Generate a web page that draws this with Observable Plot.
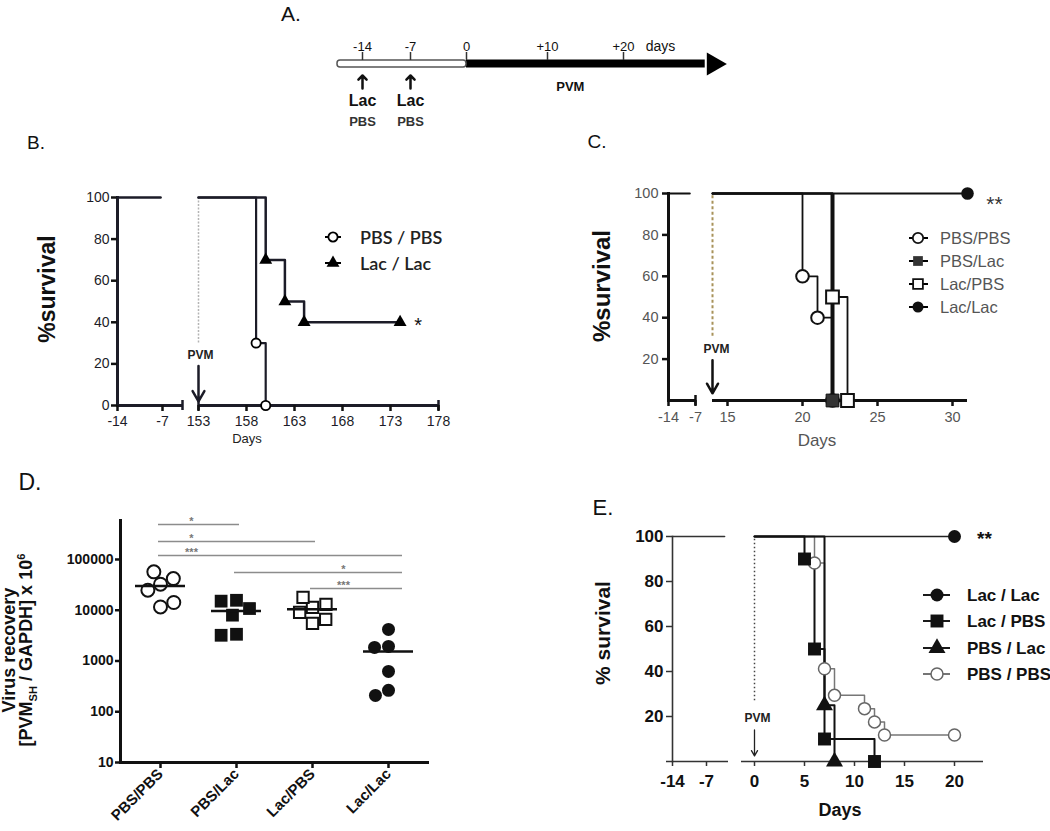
<!DOCTYPE html>
<html>
<head>
<meta charset="utf-8">
<script src="https://cdn.jsdelivr.net/npm/d3@7"></script>
<script src="https://cdn.jsdelivr.net/npm/@observablehq/plot@0.6"></script>
<style>
  body { margin: 0; background: #fff; }
  #page { position: relative; width: 1050px; height: 831px; overflow: hidden; background: #fff;
          font-family: 'Liberation Sans', Arial, Helvetica, sans-serif; color: #111; }
  #page sub, #page sup { font-size: 62%; line-height: 0; }
</style>
</head>
<body>
<div id="page"></div>
<script>
// ===================== DATA =====================
// Panel A – protocol timeline
const timelineTicks = [-14, -7, 0, 10, 20];
const timelineTickLabels = ["-14", "-7", "0", "+10", "+20"];
const timelineUnit = "days";
const timelineStart = -17.6;
const infectionDay = 0;
const timelineBodyEnd = 31;
const timelineEnd = 34;
const treatmentDays = [-14, -7];
const treatmentTop = "Lac";
const treatmentBottom = "PBS";
const infectionLabel = "PVM";
const infectionLabelDay = 13;

// Panel B – long-term survival
const bPreDays = [-14, -7.3];
const bPreSurv = [100, 100];
const bPvmDay = 153;
const bPbsPbsDays = [153, 159, 160];
const bPbsPbsSurv = [100, 30, 0];
const bLacLacDays = [153, 160, 162, 164, 174];
const bLacLacSurv = [100, 70, 50, 40, 40];
const bTicksX = [-14, -7, 153, 158, 163, 168, 173, 178];
const bTicksY = [0, 20, 40, 60, 80, 100];
const bAxisSegments = [[-14, -3.8], [153, 178]];
const bAxisCaps = [-3.8, 153, 178];
const bNames = ["PBS / PBS", "Lac / Lac"];

// Panel C – survival
const cPreDays = [-14, -8.5];
const cPreSurv = [100, 100];
const cPvmDay = 14;
const cPbsPbsDays = [14, 20, 21, 22];
const cPbsPbsSurv = [100, 60, 40, 0];
const cPbsLacDays = [14, 22];
const cPbsLacSurv = [100, 0];
const cLacPbsDays = [14, 22, 23];
const cLacPbsSurv = [100, 50, 0];
const cLacLacDays = [14, 31];
const cLacLacSurv = [100, 100];
const cTicksX = [-14, -7, 15, 20, 25, 30];
const cTicksY = [20, 40, 60, 80, 100];
const cAxisSegments = [[-14, -7], [14, 31]];
const cAxisCaps = [-7];
const cNames = ["PBS/PBS", "PBS/Lac", "Lac/PBS", "Lac/Lac"];

// Panel D – virus recovery
const dGroups = ["PBS/PBS", "PBS/Lac", "Lac/PBS", "Lac/Lac"];
const dPbsPbs = [32600, 57000, 42000, 24800, 11600, 14200];
const dPbsLac = [15700, 15100, 10800, 8000, 3360, 3210];
const dLacPbs = [11350, 17900, 13000, 9050, 5500, 6600];
const dLacLac = [4190, 1940, 1850, 624, 264, 210];
const dMeans = [30000, 9700, 10400, 1545];
const dTicksY = [10, 100, 1000, 10000, 100000];
const dSigFrom = ["PBS/PBS", "PBS/PBS", "PBS/PBS", "PBS/Lac", "Lac/PBS"];
const dSigTo = ["PBS/Lac", "Lac/PBS", "Lac/Lac", "Lac/Lac", "Lac/Lac"];
const dSigLevel = [490000, 226000, 120000, 55400, 26800];
const dSigStars = ["*", "*", "***", "*", "***"];
const dSigStarAt = ["PBS/PBS", "PBS/PBS", "PBS/PBS", "Lac/PBS", "Lac/PBS"];

// Panel E – survival
const ePreDays = [-14, -3.3];
const ePreSurv = [100, 100];
const ePvmDay = 0;
const eLacLacDays = [0, 20];
const eLacLacSurv = [100, 100];
const eLacPbsDays = [0, 5, 6, 7, 12];
const eLacPbsSurv = [100, 90, 50, 10, 0];
const ePbsLacDays = [0, 7, 8];
const ePbsLacSurv = [100, 25, 0];
const ePbsPbsDays = [0, 6, 7, 8, 11, 12, 13, 20];
const ePbsPbsSurv = [100, 88.2, 41.2, 29.4, 23.5, 17.6, 11.8, 11.8];
const eTicksX = [-14, -7, 0, 5, 10, 15, 20];
const eTicksY = [20, 40, 60, 80, 100];
const eAxisSegments = [[-14, -2.5], [-0.7, 22.9]];
const eNames = ["Lac / Lac", "Lac / PBS", "PBS / Lac", "PBS / PBS"];

// ===================== HELPERS =====================
const SANS = "'Liberation Sans', Arial, Helvetica, sans-serif";
const page = document.getElementById("page");
const tidy = (name, days, surv) => days.map((day, i) => ({name, day, surv: surv[i], i}));
const drops = rows => rows.slice(1).map((d, k) => ({day: d.day, from: rows[k].surv, to: d.surv}));
const fmt = d => String(d);
function margins(box, fr) {
  return {marginLeft: fr.l - box.x, marginRight: box.x + box.w - fr.r,
          marginTop: fr.t - box.y, marginBottom: box.y + box.h - fr.b};
}
function put(node, x, y) {
  node.style.position = "absolute";
  node.style.left = x + "px";
  node.style.top = y + "px";
  page.appendChild(node);
}
const baseStyle = (size, color) => ({background: "none", overflow: "visible", fontFamily: SANS, fontSize: size + "px", color: color || "#111"});
function label(html, cx, cy, css, rot) {
  const d = document.createElement("div");
  d.innerHTML = html;
  d.style.cssText = `position:absolute;left:${cx}px;top:${cy}px;white-space:nowrap;line-height:1;transform:translate(-50%,-50%)${rot ? " rotate(-90deg)" : ""};` + (css || "");
  page.appendChild(d);
}
const symType = {circle: d3.symbolCircle, square: d3.symbolSquare, triangle: d3.symbolTriangle};
function legend(items, o) {
  items.forEach((it, k) => {
    const cy = o.y0 + k * o.dy;
    const w = o.x2 - o.x1;
    const div = document.createElement("div");
    div.style.cssText = `position:absolute;left:${o.x1}px;top:${cy - 12}px;width:200px;height:24px;white-space:nowrap;`;
    const p = d3.symbol(symType[it.type], Math.PI * it.r * it.r)();
    div.innerHTML =
      `<svg width="${w}" height="24" style="position:absolute;left:0;top:0;overflow:visible">` +
      `<line x1="0" x2="${w}" y1="12" y2="12" stroke="${it.line || "#000"}" stroke-width="${o.lw}"/>` +
      `<path transform="translate(${o.mx - o.x1},12)" d="${p}" fill="${it.fill}" stroke="${it.stroke || "none"}" stroke-width="${it.sw || 0}"/></svg>` +
      `<span style="position:absolute;left:${o.tx - o.x1}px;top:12px;transform:translateY(-50%);line-height:1;${o.font}">${it.label}</span>`;
    page.appendChild(div);
  });
}

// ===================== PANEL A =====================
{
  const box = {x: 280, y: 0, w: 520, h: 140};
  const svg = Plot.plot({
    width: box.w, height: box.h,
    marginLeft: 0, marginRight: 0, marginTop: 60, marginBottom: 73,
    style: baseStyle(13),
    x: {type: "linear", domain: [timelineStart, -14, -7, 0, 10, 20, timelineEnd],
        range: [337, 362, 410, 466, 547, 623, 727].map(v => v - box.x), axis: null},
    marks: [
      Plot.rect([[infectionDay, timelineBodyEnd]], {x1: d => d[0], x2: d => d[1], fill: "black", insetTop: -0.5, insetBottom: -0.5}),
      Plot.rect([[timelineStart, infectionDay]], {x1: d => d[0], x2: d => d[1], fill: "white", stroke: "#555", strokeWidth: 1.5, rx: 3}),
      Plot.dot([timelineEnd], {x: d => d, symbol: "triangle", rotate: 90, r: 8.6, fill: "black", dx: -14}),
      Plot.ruleX(timelineTicks, {x: d => d, insetTop: -8, insetBottom: 7, strokeWidth: 1.5, stroke: "#333"}),
      Plot.text(timelineTicks, {x: d => d, text: (d, i) => timelineTickLabels[i], frameAnchor: "top", dy: -19, fontSize: 13}),
      Plot.text([timelineUnit], {x: timelineTicks[timelineTicks.length - 1], text: d => d, frameAnchor: "top", dy: -19, dx: 37, fontSize: 14}),
      Plot.vector(treatmentDays, {x: d => d, frameAnchor: "bottom", dy: 21, anchor: "start", length: 13, r: 5.5, strokeWidth: 2.5, shape: "arrow"}),
      Plot.text(treatmentDays, {x: d => d, text: () => treatmentTop, frameAnchor: "bottom", dy: 38, fontSize: 16, fontWeight: "bold"}),
      Plot.text(treatmentDays, {x: d => d, text: () => treatmentBottom, frameAnchor: "bottom", dy: 58, fontSize: 13, fontWeight: "bold", fill: "#333"}),
      Plot.text([infectionLabel], {x: infectionLabelDay, text: d => d, frameAnchor: "bottom", dy: 23, fontSize: 13, fontWeight: "bold"})
    ]
  });
  put(svg, box.x, box.y);
}

// ===================== PANEL B =====================
{
  const box = {x: 0, y: 170, w: 520, h: 290};
  const fr = {l: 117, r: 438, t: 197, b: 405};
  const pbs = tidy(bNames[0], bPbsPbsDays, bPbsPbsSurv);
  const lac = tidy(bNames[1], bLacLacDays, bLacLacSurv);
  const pre = tidy("pre", bPreDays, bPreSurv);
  const svg = Plot.plot({
    width: box.w, height: box.h, ...margins(box, fr),
    style: baseStyle(14, "#1c1c28"),
    x: {type: "linear", domain: [-14, -7, -3.8, 153, 178], range: [117, 162, 182, 198, 438].map(v => v - box.x)},
    y: {domain: [0, 100]},
    marks: [
      Plot.ruleX([bPvmDay], {x: d => d, y1: 30, y2: 100, stroke: "#b4b4b4", strokeWidth: 1.5, strokeDasharray: "2,1.5"}),
      Plot.ruleY(bAxisSegments, {x1: d => d[0], x2: d => d[1], y: 0, strokeWidth: 3}),
      Plot.frame({anchor: "left", strokeWidth: 3}),
      Plot.ruleX(bAxisCaps, {x: d => d, y1: 0, y2: 0, insetTop: -5, insetBottom: -5, strokeWidth: 2.5}),
      Plot.axisY({ticks: bTicksY, tickFormat: fmt, tickSize: 6, tickPadding: 2, strokeWidth: 2.5, stroke: "#111", fontSize: 14, label: null}),
      Plot.axisX({ticks: bTicksX, tickFormat: fmt, tickSize: 6, tickPadding: 5, strokeWidth: 2.5, stroke: "#111", fontSize: 14, label: null}),
      Plot.line(pre, {x: "day", y: "surv", strokeWidth: 2.5}),
      Plot.line(pbs, {x: "day", y: "surv", curve: "step-after", strokeWidth: 2.2}),
      Plot.line(lac, {x: "day", y: "surv", curve: "step-after", strokeWidth: 2.5}),
      Plot.dot(pbs.filter(d => d.i > 0), {x: "day", y: "surv", symbol: "circle", r: 4.6, fill: "white", stroke: "black", strokeWidth: 1.8}),
      Plot.dot(lac.filter(d => d.i > 0), {x: "day", y: "surv", symbol: "triangle", r: 4.8, fill: "black"}),
      Plot.text(lac.slice(-1), {x: "day", y: "surv", text: () => "*", dx: 18, dy: 3, fontSize: 20, fill: "#111"}),
      Plot.text([bPvmDay], {x: d => d, y: 0, dy: -50, dx: 2, text: () => "PVM", fontSize: 12, fontWeight: "bold", fill: "#222"}),
      Plot.arrow([bPvmDay], {x1: d => d, x2: d => d, y1: 19, y2: 2, strokeWidth: 2.5, headLength: 10})
    ]
  });
  put(svg, box.x, box.y);
  legend([
    {label: bNames[0], type: "circle", r: 4.6, fill: "white", stroke: "#000", sw: 1.8},
    {label: bNames[1], type: "triangle", r: 4.8, fill: "#000"}
  ], {x1: 325, x2: 341, mx: 333, tx: 360, y0: 237, dy: 26, lw: 2,
      font: "font-family:Lato,'Open Sans',sans-serif;font-size:18px;font-weight:600;color:#222;"});
}

// ===================== PANEL C =====================
{
  const box = {x: 520, y: 170, w: 530, h: 290};
  const fr = {l: 668, r: 967, t: 193, b: 400};
  const pre = tidy("pre", cPreDays, cPreSurv);
  const pp = tidy(cNames[0], cPbsPbsDays, cPbsPbsSurv);
  const pl = tidy(cNames[1], cPbsLacDays, cPbsLacSurv);
  const lp = tidy(cNames[2], cLacPbsDays, cLacPbsSurv);
  const ll = tidy(cNames[3], cLacLacDays, cLacLacSurv);
  const svg = Plot.plot({
    width: box.w, height: box.h, ...margins(box, fr),
    style: baseStyle(14, "#555"),
    x: {type: "linear", domain: [-14, -7, 14, 31], range: [668, 695, 712, 967].map(v => v - box.x)},
    y: {domain: [0, 100]},
    marks: [
      Plot.ruleX([cPvmDay], {x: d => d, y1: 31, y2: 100, stroke: "#a8925a", strokeWidth: 2, strokeDasharray: "3,2.5"}),
      Plot.ruleY(cAxisSegments, {x1: d => d[0], x2: d => d[1], y: 0, strokeWidth: 3, stroke: "#111"}),
      Plot.frame({anchor: "left", strokeWidth: 3, stroke: "#111"}),
      Plot.ruleX(cAxisCaps, {x: d => d, y1: 0, y2: 0, insetTop: -5, insetBottom: -5, strokeWidth: 2.5, stroke: "#111"}),
      Plot.axisY({ticks: cTicksY, tickFormat: fmt, tickSize: 6, tickPadding: 4, strokeWidth: 2.5, stroke: "#111", fill: "#555", fontSize: 14.5, label: null}),
      Plot.axisX({ticks: cTicksX, tickFormat: fmt, tickSize: 6, tickPadding: 5, strokeWidth: 2.5, stroke: "#111", fill: "#555", fontSize: 14.5, label: null}),
      Plot.line(pre, {x: "day", y: "surv", strokeWidth: 2.2, stroke: "#111"}),
      Plot.line(ll, {x: "day", y: "surv", curve: "step-after", strokeWidth: 1.8, stroke: "#111"}),
      Plot.line(pp, {x: "day", y: "surv", curve: "step-after", strokeWidth: 1.8, stroke: "#111"}),
      Plot.line(lp, {x: "day", y: "surv", curve: "step-after", strokeWidth: 1.8, stroke: "#111"}),
      Plot.line(pl, {x: "day", y: "surv", curve: "step-after", strokeWidth: 1.8, stroke: "#111"}),
      Plot.ruleX(drops(pl), {x: "day", y1: "from", y2: "to", strokeWidth: 4, stroke: "#111"}),
      Plot.dot(pp.filter(d => d.i > 0), {x: "day", y: "surv", symbol: "circle", r: 6.3, fill: "white", stroke: "#111", strokeWidth: 2}),
      Plot.dot(pl.filter(d => d.i > 0), {x: "day", y: "surv", symbol: "square", r: 7.2, fill: "#333", stroke: "#111", strokeWidth: 1}),
      Plot.dot(lp.filter(d => d.i > 0), {x: "day", y: "surv", symbol: "square", r: 7.2, fill: "white", stroke: "#111", strokeWidth: 2}),
      Plot.dot(ll.filter(d => d.i > 0), {x: "day", y: "surv", symbol: "circle", r: 6.3, fill: "#111"}),
      Plot.text(ll.slice(-1), {x: "day", y: "surv", text: () => "**", dx: 27, dy: 11, fontSize: 21, fill: "#333"}),
      Plot.text([cPvmDay], {x: d => d, y: 0, dy: -51, dx: 4, text: () => "PVM", fontSize: 12, fontWeight: "bold", fill: "#222"}),
      Plot.arrow([cPvmDay], {x1: d => d, x2: d => d, y1: 19.5, y2: 3.5, strokeWidth: 2.5, headLength: 10, stroke: "#111"})
    ]
  });
  put(svg, box.x, box.y);
  legend([
    {label: cNames[0], type: "circle", r: 5.2, fill: "white", stroke: "#111", sw: 1.8},
    {label: cNames[1], type: "square", r: 5.5, fill: "#333"},
    {label: cNames[2], type: "square", r: 5.5, fill: "white", stroke: "#111", sw: 1.8},
    {label: cNames[3], type: "circle", r: 5.5, fill: "#111"}
  ], {x1: 909, x2: 928, mx: 918, tx: 940, y0: 238, dy: 23, lw: 2,
      font: "font-size:16.5px;color:#555;"});
}

// ===================== PANEL D =====================
{
  const box = {x: 0, y: 480, w: 520, h: 351};
  const fr = {l: 120, r: 427, t: 520, b: 762};
  const yScale = {type: "log", domain: [10, 586000]};
  const sig = dSigFrom.map((from, i) => ({from, to: dSigTo[i], level: dSigLevel[i], stars: dSigStars[i], at: dSigStarAt[i]}));
  const axes = Plot.plot({
    width: box.w, height: box.h, ...margins(box, fr),
    style: baseStyle(14),
    x: {type: "point", domain: dGroups},
    y: yScale,
    marks: [
      Plot.frame({anchor: "left", strokeWidth: 3}),
      Plot.frame({anchor: "bottom", strokeWidth: 3}),
      Plot.axisY({ticks: dTicksY, tickFormat: fmt, tickSize: 5, tickPadding: 2, strokeWidth: 2.5, fontSize: 14, fontWeight: "bold", label: null}),
      Plot.axisX({tickRotate: -45, tickSize: 6, tickPadding: 3, strokeWidth: 2.5, fontSize: 15, fontWeight: "bold", label: null}),
      Plot.ruleY(sig.filter(d => d.to !== "Lac/Lac"), {x1: "from", x2: "to", y: "level", stroke: "#8c8c8c", strokeWidth: 1.5, insetLeft: -2, insetRight: -3}),
      Plot.ruleY(sig.filter(d => d.to === "Lac/Lac"), {x1: "from", x2: "to", y: "level", stroke: "#8c8c8c", strokeWidth: 1.5, insetLeft: -2, insetRight: -14}),
      Plot.text(sig, {x: "at", y: "level", text: "stars", dx: 31, dy: -3, fill: "#777", fontSize: 11, fontWeight: "bold"})
    ]
  });
  put(axes, box.x, box.y);

  const pts = (group, values) => values.map(value => ({group, value}));
  const means = dGroups.map((group, i) => ({group, mean: dMeans[i]}));
  const dots = Plot.plot({
    width: box.w, height: box.h, ...margins(box, fr),
    style: baseStyle(14),
    fx: {domain: dGroups, padding: 0, axis: null},
    y: {...yScale, axis: null},
    marks: [
      Plot.dot(pts(dGroups[0], dPbsPbs), Plot.dodgeX("middle", {fx: "group", y: "value", r: 6.5, padding: 2, symbol: "circle", fill: "white", stroke: "#111", strokeWidth: 2})),
      Plot.dot(pts(dGroups[1], dPbsLac), Plot.dodgeX("middle", {fx: "group", y: "value", r: 7.2, padding: 1, symbol: "square", fill: "#111"})),
      Plot.dot(pts(dGroups[2], dLacPbs), Plot.dodgeX("middle", {fx: "group", y: "value", r: 6.4, padding: 1, symbol: "square", fill: "white", stroke: "#111", strokeWidth: 2})),
      Plot.dot(pts(dGroups[3], dLacLac), Plot.dodgeX("middle", {fx: "group", y: "value", r: 6.5, padding: 1, symbol: "circle", fill: "#111"})),
      Plot.tickY(means, {fx: "group", y: "mean", strokeWidth: 2.5, inset: 13, stroke: "#111"})
    ]
  });
  put(dots, box.x, box.y);
}

// ===================== PANEL E =====================
{
  const box = {x: 520, y: 480, w: 530, h: 351};
  const fr = {l: 672, r: 983, t: 536, b: 761};
  const pre = tidy("pre", ePreDays, ePreSurv);
  const ll = tidy(eNames[0], eLacLacDays, eLacLacSurv);
  const lp = tidy(eNames[1], eLacPbsDays, eLacPbsSurv);
  const pl = tidy(eNames[2], ePbsLacDays, ePbsLacSurv);
  const pp = tidy(eNames[3], ePbsPbsDays, ePbsPbsSurv);
  const svg = Plot.plot({
    width: box.w, height: box.h, ...margins(box, fr),
    style: baseStyle(17),
    x: {type: "linear", domain: [-14, -7, -2.5, -0.7, 22.9], range: [672, 706, 728, 747, 983].map(v => v - box.x)},
    y: {domain: [0, 100]},
    marks: [
      Plot.ruleX([ePvmDay], {x: d => d, y1: 27, y2: 100, stroke: "#444", strokeWidth: 1.5, strokeDasharray: "1.5,2.5"}),
      Plot.ruleY(eAxisSegments, {x1: d => d[0], x2: d => d[1], y: 0, strokeWidth: 1.6, stroke: "#333", insetLeft: -6}),
      Plot.frame({anchor: "left", strokeWidth: 1.6, stroke: "#333"}),
      Plot.axisY({ticks: eTicksY, tickFormat: fmt, tickSize: 6, tickPadding: 3, strokeWidth: 1.5, stroke: "#333", fontSize: 17, fontWeight: "bold", label: null}),
      Plot.axisX({ticks: eTicksX, tickFormat: fmt, tickSize: 5, tickPadding: 8, strokeWidth: 1.5, stroke: "#333", fontSize: 17, fontWeight: "bold", label: null}),
      Plot.line(pre, {x: "day", y: "surv", strokeWidth: 1.6, stroke: "#333"}),
      Plot.line(pp, {x: "day", y: "surv", curve: "step-after", strokeWidth: 1.5, stroke: "#777"}),
      Plot.line(ll, {x: "day", y: "surv", curve: "step-after", strokeWidth: 1.6, stroke: "#222"}),
      Plot.line(lp, {x: "day", y: "surv", curve: "step-after", strokeWidth: 2, stroke: "#111"}),
      Plot.line(pl, {x: "day", y: "surv", curve: "step-after", strokeWidth: 2, stroke: "#111"}),
      Plot.dot(pp.filter(d => d.i > 0), {x: "day", y: "surv", symbol: "circle", r: 6, fill: "white", stroke: "#666", strokeWidth: 1.5}),
      Plot.dot(lp.filter(d => d.i > 0), {x: "day", y: "surv", symbol: "square", r: 7.3, fill: "#111"}),
      Plot.dot(pl.filter(d => d.i > 0), {x: "day", y: "surv", symbol: "triangle", r: 6.3, fill: "#111"}),
      Plot.dot(ll.filter(d => d.i > 0), {x: "day", y: "surv", symbol: "circle", r: 6.5, fill: "#111"}),
      Plot.text(ll.slice(-1), {x: "day", y: "surv", text: () => "**", dx: 30, dy: 2, fontSize: 19, fontWeight: "bold"}),
      Plot.text([ePvmDay], {x: d => d, y: 0, dy: -43, dx: 3, text: () => "PVM", fontSize: 12, fontWeight: "bold", fill: "#222"}),
      Plot.arrow([ePvmDay], {x1: d => d, x2: d => d, y1: 14, y2: 2.5, strokeWidth: 1.3, headLength: 7, stroke: "#222"})
    ]
  });
  put(svg, box.x, box.y);
  legend([
    {label: eNames[0], type: "circle", r: 6.5, fill: "#111"},
    {label: eNames[1], type: "square", r: 7.3, fill: "#111"},
    {label: eNames[2], type: "triangle", r: 6.3, fill: "#111"},
    {label: eNames[3], type: "circle", r: 6, fill: "white", stroke: "#666", sw: 1.5, line: "#666"}
  ], {x1: 923, x2: 950, mx: 937, tx: 967, y0: 595, dy: 26.3, lw: 1.8,
      font: "font-size:17px;font-weight:bold;color:#111;"});
}

// ===================== LABELS =====================
label("A.", 291, 13, "font-size:21px;");
label("B.", 36, 142, "font-size:19px;");
label("C.", 597, 141, "font-size:19px;");
label("D.", 30, 482, "font-size:23px;");
label("E.", 603, 508, "font-size:22px;");

label("%survival", 47, 289, "font-size:23px;font-weight:bold;", true);
label("Days", 247, 438, "font-size:13px;color:#222;");
label("%survival", 602, 286, "font-size:24px;font-weight:bold;", true);
label("Days", 817, 440, "font-size:17px;color:#555;");
label("% survival", 602, 633, "font-size:21px;font-weight:bold;", true);
label("Days", 840, 810, "font-size:18px;font-weight:bold;");
label("Virus recovery<br>[PVM<sub>SH</sub> / GAPDH] x 10<sup>6</sup>", 18, 650,
      "font-size:18px;font-weight:bold;line-height:17px;text-align:center;", true);
</script>
</body>
</html>
